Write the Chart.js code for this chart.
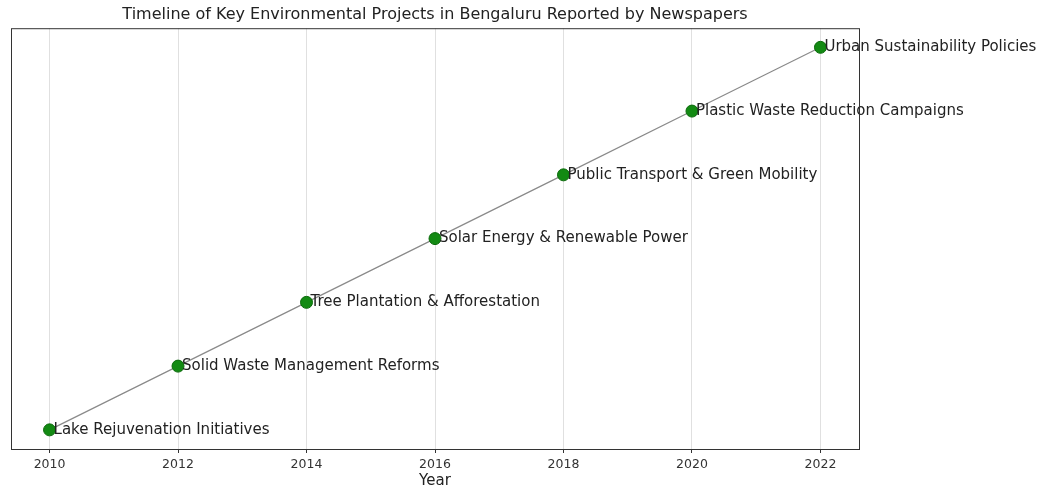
<!DOCTYPE html>
<html>
<head>
<meta charset="utf-8">
<script src="https://cdn.jsdelivr.net/npm/chart.js@4.4.1/dist/chart.umd.min.js"></script>
<style>
  body { margin: 0; background: #fff; }
  #wrap { width: 1043px; height: 490px; }
</style>
</head>
<body>
<div id="wrap"><canvas id="timeline"></canvas></div>
<script>
// data
var years = [2010, 2012, 2014, 2016, 2018, 2020, 2022];
var projects = [
  "Lake Rejuvenation Initiatives",
  "Solid Waste Management Reforms",
  "Tree Plantation & Afforestation",
  "Solar Energy & Renewable Power",
  "Public Transport & Green Mobility",
  "Plastic Waste Reduction Campaigns",
  "Urban Sustainability Policies"
];
var levels = [0, 1, 2, 3, 4, 5, 6];
var xTicks = [2010, 2012, 2014, 2016, 2018, 2020, 2022];

var points = years.map(function (y, i) { return {x: y, y: levels[i]}; });

// text next to each point + the axes frame
var labelPlugin = {
  id: "pointLabels",
  afterDraw: function (chart) {
    var ctx = chart.ctx;
    var xs = chart.scales.x, ys = chart.scales.y;
    ctx.save();
    ctx.font = "15px 'DejaVu Sans'";
    ctx.fillStyle = "#222";
    ctx.textBaseline = "middle";
    ctx.textAlign = "left";
    points.forEach(function (p, i) {
      ctx.fillText(projects[i], xs.getPixelForValue(p.x) + 4, ys.getPixelForValue(p.y));
    });
    var a = chart.chartArea;
    ctx.strokeStyle = "#333";
    ctx.lineWidth = 1;
    ctx.strokeRect(a.left + 0.5, a.top + 0.5, a.right - a.left, a.bottom - a.top);
    ctx.restore();
  }
};

new Chart("timeline", {
  type: "line",
  data: {
    datasets: [{
      data: points,
      borderColor: "#8a8a8a",
      borderWidth: 1.2,
      pointRadius: 6,
      pointBackgroundColor: "#138a13",
      pointBorderColor: "#0b6a0b",
      pointBorderWidth: 1,
      tension: 0
    }]
  },
  options: {
    responsive: true,
    maintainAspectRatio: false,
    animation: false,
    layout: {padding: {left: 11, right: 184, top: 0, bottom: 0}},
    plugins: {
      legend: {display: false},
      tooltip: {enabled: false},
      title: {
        display: true,
        text: "Timeline of Key Environmental Projects in Bengaluru Reported by Newspapers",
        color: "#222",
        font: {family: "DejaVu Sans", size: 16, weight: "normal"},
        padding: {top: 5, bottom: 4}
      }
    },
    scales: {
      x: {
        type: "linear",
        min: 2009.4,
        max: 2022.6,
        afterBuildTicks: function (axis) {
          axis.ticks = xTicks.map(function (v) { return {value: v}; });
        },
        afterFit: function (axis) { axis.height = 41; },
        ticks: {
          color: "#333",
          font: {family: "DejaVu Sans", size: 12.5},
          padding: 4,
          maxRotation: 0,
          callback: function (v) { return String(v); }
        },
        grid: {color: "#e0e0e0", lineWidth: 1, tickLength: 4, tickColor: "#333"},
        border: {display: false},
        title: {
          display: true,
          text: "Year",
          color: "#222",
          font: {family: "DejaVu Sans", size: 15},
          padding: {top: 0, bottom: 0}
        }
      },
      y: {
        display: false,
        min: -0.3,
        max: 6.3
      }
    }
  },
  plugins: [labelPlugin]
});
</script>
</body>
</html>
